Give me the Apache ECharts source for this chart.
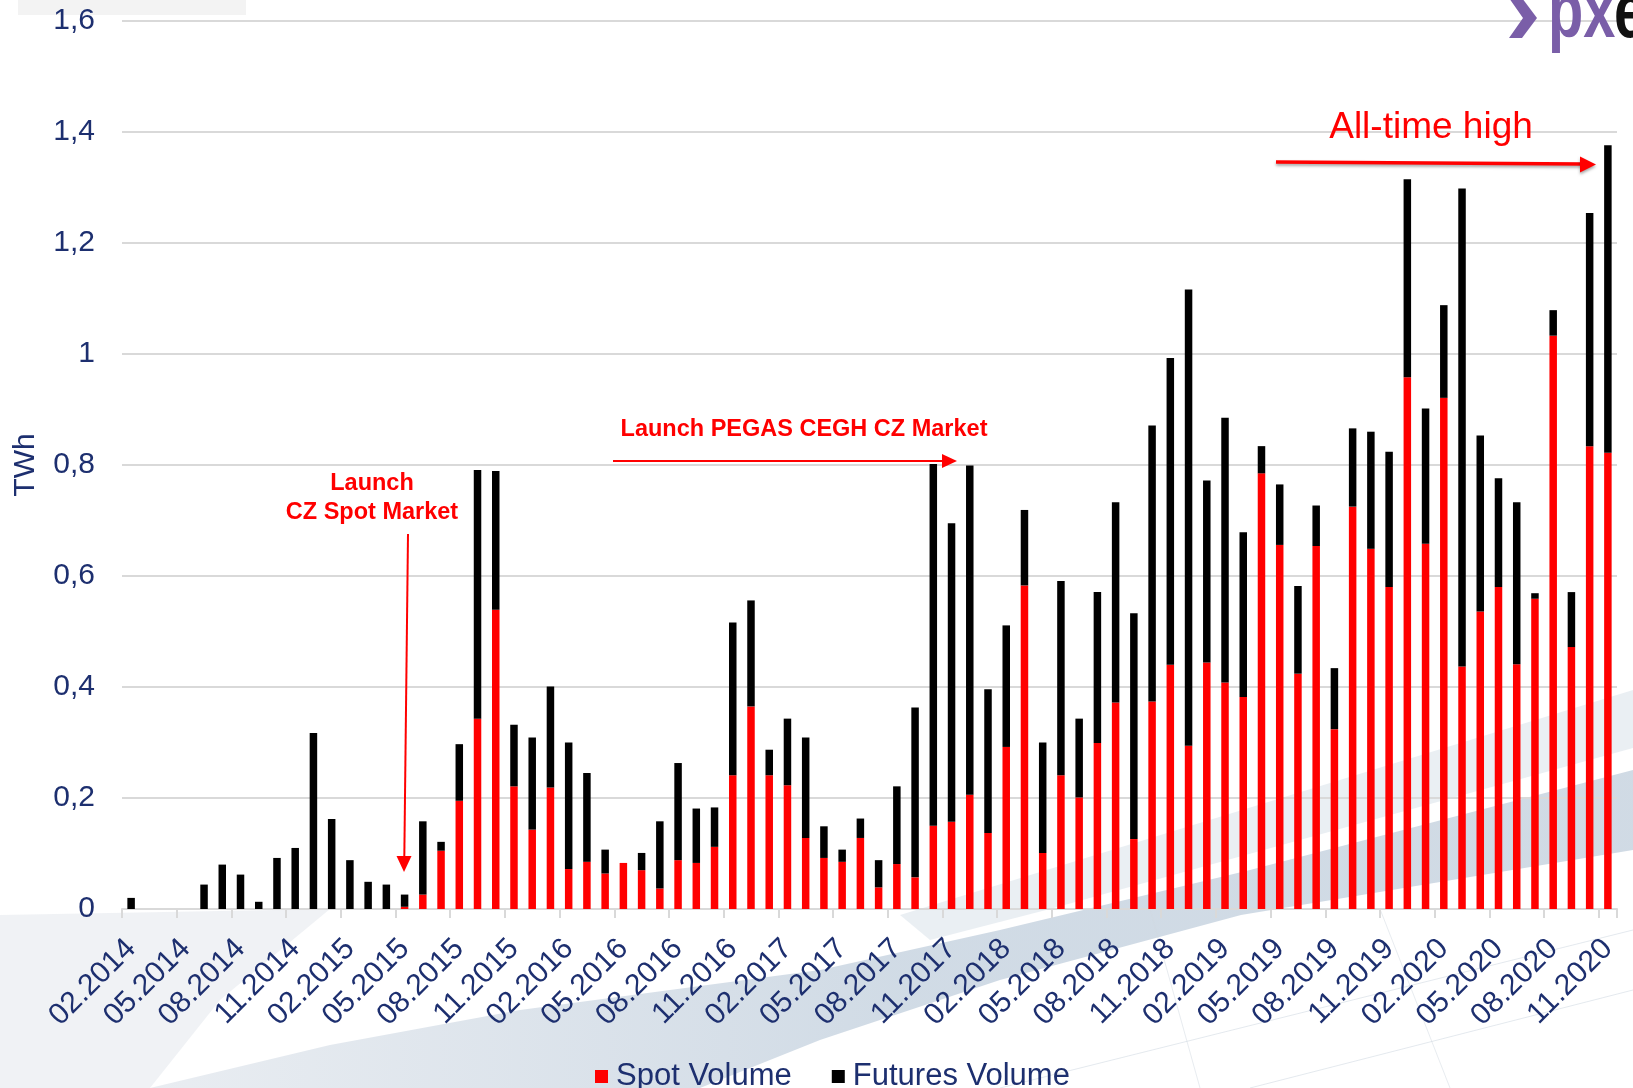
<!DOCTYPE html>
<html>
<head>
<meta charset="utf-8">
<script src="https://cdn.jsdelivr.net/npm/echarts@6/dist/echarts.min.js"></script>
<style>
html,body{margin:0;padding:0;background:#fff;}
#c{width:1633px;height:1088px;}
</style>
</head>
<body>
<div id="c"></div>
<script>
// ---- data ----
const months = ['02.2014','03.2014','04.2014','05.2014','06.2014','07.2014','08.2014','09.2014','10.2014','11.2014','12.2014',
'01.2015','02.2015','03.2015','04.2015','05.2015','06.2015','07.2015','08.2015','09.2015','10.2015','11.2015','12.2015',
'01.2016','02.2016','03.2016','04.2016','05.2016','06.2016','07.2016','08.2016','09.2016','10.2016','11.2016','12.2016',
'01.2017','02.2017','03.2017','04.2017','05.2017','06.2017','07.2017','08.2017','09.2017','10.2017','11.2017','12.2017',
'01.2018','02.2018','03.2018','04.2018','05.2018','06.2018','07.2018','08.2018','09.2018','10.2018','11.2018','12.2018',
'01.2019','02.2019','03.2019','04.2019','05.2019','06.2019','07.2019','08.2019','09.2019','10.2019','11.2019','12.2019',
'01.2020','02.2020','03.2020','04.2020','05.2020','06.2020','07.2020','08.2020','09.2020','10.2020','11.2020'];

const spotVolume = [0,0,0,0,0,0,0,0,0,0,0,0,0,0,0,
0.004,0.026,0.105,0.195,0.343,0.539,0.221,0.143,0.219,0.072,0.085,0.064,0.083,0.070,0.037,
0.088,0.083,0.112,0.241,0.365,0.241,0.223,0.128,0.092,0.085,0.128,0.039,0.081,0.057,0.150,
0.157,0.206,0.137,0.292,0.583,0.101,0.241,0.201,0.299,0.372,0.126,0.374,0.440,0.294,0.444,
0.408,0.382,0.785,0.656,0.424,0.654,0.324,0.725,0.649,0.580,0.958,0.658,0.921,0.437,0.536,
0.580,0.441,0.559,1.033,0.472,0.834,0.822];

const futuresVolume = [0.020,0,0,0,0.044,0.080,0.062,0.013,0.092,0.110,
0.317,0.162,0.088,0.049,0.044,0.022,0.132,0.016,0.102,0.448,
0.250,0.111,0.166,0.182,0.228,0.160,0.043,0,0.031,0.121,
0.175,0.098,0.071,0.275,0.191,0.046,0.120,0.181,0.057,0.022,
0.035,0.049,0.140,0.306,0.652,0.538,0.593,0.259,0.219,0.136,
0.199,0.350,0.142,0.272,0.361,0.407,0.497,0.553,0.822,0.328,
0.477,0.297,0.049,0.109,0.158,0.073,0.110,0.141,0.211,0.244,
0.357,0.244,0.167,0.861,0.317,0.196,0.292,0.010,0.046,0.099,
0.420,0.554];

const seriesNames = ['Spot Volume','Futures Volume'];
const yTicks = {min:0, max:1.6, interval:0.2};

// ---- style ----
const NAVY = '#1d2f6f';
const FONT = '"Liberation Sans", Arial, sans-serif';
const RED = '#ff0000';

const chart = echarts.init(document.getElementById('c'), null, {renderer:'canvas'});

const bgShapes = [
  {type:'rect', z:-20, shape:{x:18,y:0,width:228,height:15}, style:{fill:'#f3f3f3'}},
  // light grey lower-left corner
  {type:'polygon', z:-21, shape:{points:[[0,915],[330,909],[220,1000],[150,1088],[0,1088]]},
    style:{fill:'rgba(238,241,244,0.9)'}},
  // main ribbon
  {type:'polygon', z:-20, shape:{points:[[150,1088],[330,1045],[520,1010],[820,970],[1000,930],[1250,870],[1633,770],
      [1633,850],[1241,915],[1000,980],[820,1040],[700,1088]]},
    style:{fill:new echarts.graphic.LinearGradient(0,0,1,0,[
      {offset:0,color:'rgba(232,236,241,0.95)'},{offset:0.5,color:'rgba(206,217,228,0.95)'},{offset:1,color:'rgba(200,212,224,0.85)'}])}},
  // upper lighter stripe
  {type:'polygon', z:-20, shape:{points:[[900,915],[1633,690],[1633,748],[1050,909],[930,940]]},
    style:{fill:'rgba(230,236,241,0.85)'}},
  // faint perspective lines lower right
  {type:'polyline', z:-20, shape:{points:[[1000,1088],[1633,930]]}, style:{stroke:'rgba(210,218,226,0.6)', lineWidth:1}},
  {type:'polyline', z:-20, shape:{points:[[1250,1088],[1633,990]]}, style:{stroke:'rgba(210,218,226,0.6)', lineWidth:1}},
  {type:'polyline', z:-20, shape:{points:[[1150,909],[1200,1088]]}, style:{stroke:'rgba(210,218,226,0.5)', lineWidth:1}},
  {type:'polyline', z:-20, shape:{points:[[1380,909],[1450,1088]]}, style:{stroke:'rgba(210,218,226,0.5)', lineWidth:1}}
];

const annotations = [
  // Launch CZ Spot Market
  {type:'text', z:100, style:{text:'Launch\nCZ Spot Market', x:372, y:498, textAlign:'center', textVerticalAlign:'middle',
    font:'bold 23.5px '+FONT, fill:RED, lineHeight:29}},
  {type:'line', z:100, shape:{x1:408,y1:534,x2:404.3,y2:858}, style:{stroke:RED, lineWidth:2}},
  {type:'polygon', z:100, shape:{points:[[404,872],[396.5,856],[411.5,856]]}, style:{fill:RED}},
  // PEGAS
  {type:'text', z:100, style:{text:'Launch PEGAS CEGH CZ Market', x:804, y:430, textAlign:'center', textVerticalAlign:'middle',
    font:'bold 23.5px '+FONT, fill:RED}},
  {type:'line', z:100, shape:{x1:613,y1:461,x2:944,y2:461}, style:{stroke:RED, lineWidth:2.2}},
  {type:'polygon', z:100, shape:{points:[[957,461],[942,454],[942,468]]}, style:{fill:RED}},
  // All-time high
  {type:'text', z:100, style:{text:'All-time high', x:1431, y:128, textAlign:'center', textVerticalAlign:'middle',
    font:'37px '+FONT, fill:RED}},
  {type:'line', z:100, shape:{x1:1276,y1:162,x2:1582,y2:164}, style:{stroke:RED, lineWidth:3.6, shadowBlur:3, shadowColor:'rgba(0,0,0,0.35)', shadowOffsetY:2}},
  {type:'polygon', z:100, shape:{points:[[1596,164.5],[1580,156.5],[1580,172.5]]}, style:{fill:RED, shadowBlur:3, shadowColor:'rgba(0,0,0,0.35)', shadowOffsetY:2}},
  // logo
  {type:'polygon', z:100, shape:{points:[[1509,-2],[1522,-2],[1537,18],[1522,38],[1509,38],[1523,18]]}, style:{fill:'#7a5ea8'}},
  {type:'text', z:100, scaleX:0.74, originX:1548, originY:0, style:{text:'px', x:1548, y:54, textAlign:'left', textVerticalAlign:'bottom',
    font:'bold 78px '+FONT, fill:'#7a5ea8'}},
  {type:'text', z:100, scaleX:0.74, originX:1614, originY:0, style:{text:'e', x:1614, y:54, textAlign:'left', textVerticalAlign:'bottom',
    font:'bold 78px '+FONT, fill:'#111'}}
];

const option = {
  backgroundColor:'#ffffff',
  animation:false,
  textStyle:{fontFamily:FONT},
  grid:{left:122, right:16, top:21, bottom:179, containLabel:false},
  legend:{
    data:seriesNames, left:590, top:1056, icon:'rect', itemWidth:13, itemHeight:13, itemGap:40,
    textStyle:{fontSize:31, color:NAVY, fontFamily:FONT, padding:[0,0,0,3]}
  },
  xAxis:{
    type:'category', data:months, boundaryGap:true,
    axisLine:{lineStyle:{color:'#d9d9d9', width:2}},
    axisTick:{show:true, interval:2, length:9, alignWithLabel:false, lineStyle:{color:'#d9d9d9', width:2}},
    axisLabel:{interval:2, rotate:45, margin:35, fontSize:30, color:NAVY, fontFamily:FONT},
    splitLine:{show:false}
  },
  yAxis:{
    type:'value', min:yTicks.min, max:yTicks.max, interval:yTicks.interval,
    name:'TWh', nameLocation:'middle', nameRotate:90, nameGap:81,
    nameTextStyle:{fontSize:30, color:NAVY, fontFamily:FONT},
    axisLine:{show:false}, axisTick:{show:false},
    axisLabel:{fontSize:30, color:NAVY, margin:27, fontFamily:FONT,
      formatter:function(v){ return v===0 ? '0' : String(+v.toFixed(1)).replace('.',','); }},
    splitLine:{lineStyle:{color:'#d9d9d9', width:2}}
  },
  series:[
    {name:seriesNames[0], type:'bar', stack:'v', data:spotVolume, barWidth:7.5, itemStyle:{color:RED}},
    {name:seriesNames[1], type:'bar', stack:'v', data:futuresVolume, barWidth:7.5, itemStyle:{color:'#000000'}}
  ],
  graphic:bgShapes.concat(annotations)
};
chart.setOption(option);
</script>
</body>
</html>
